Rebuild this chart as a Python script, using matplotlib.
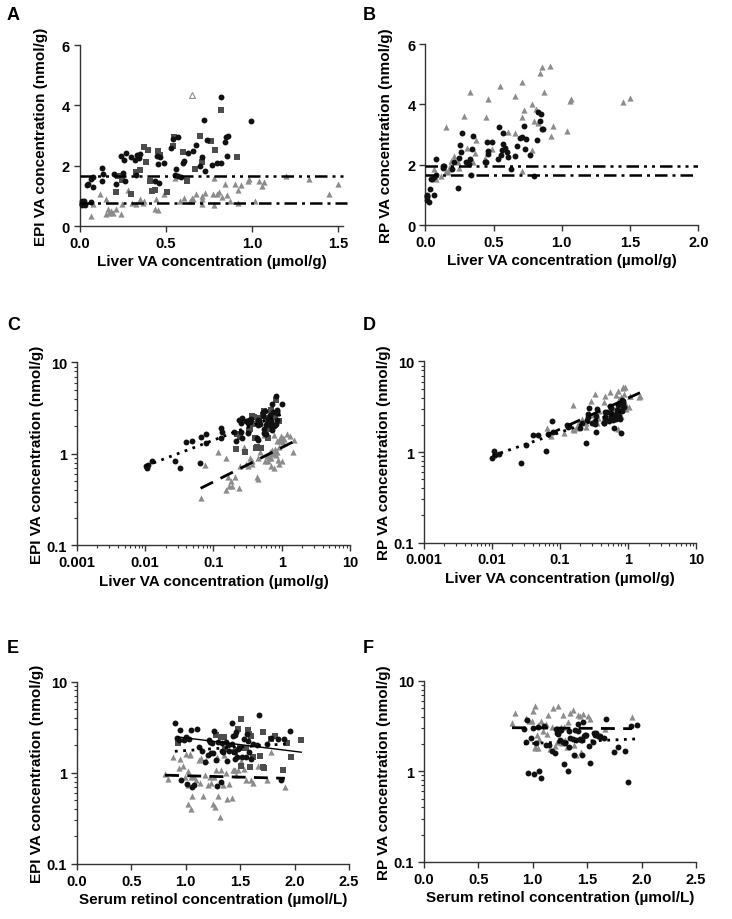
import numpy as np
import matplotlib
matplotlib.use('Agg')
import matplotlib.pyplot as plt
from matplotlib.ticker import FuncFormatter, LogLocator, NullFormatter

plt.rcParams['font.family'] = ['Liberation Sans', 'DejaVu Sans']
plt.rcParams['font.weight'] = 'bold'
plt.rcParams['axes.labelweight'] = 'bold'

nan = np.nan

# circles: liver VA (umol/g), EPI VA (nmol/g), RP VA (nmol/g), serum retinol (umol/L)
circ_liver = [0.0102, 0.0107, 0.011, 0.0125, 0.027, 0.032, 0.040, 0.048, 0.063, 0.066, 0.077, 0.079,
              0.128, 0.13, 0.134, 0.198, 0.212, 0.24, 0.25, 0.256, 0.26, 0.266, 0.298, 0.322, 0.325,
              0.334, 0.342, 0.35, 0.438, 0.448, 0.453, 0.458, 0.463, 0.488, 0.53, 0.542, 0.554, 0.56,
              0.569, 0.57, 0.586, 0.598, 0.603, 0.63, 0.657, 0.672, 0.696, 0.708, 0.72, 0.728, 0.74,
              0.769, 0.794, 0.818, 0.822, 0.843, 0.847, 0.855, 0.862, 0.996]
circ_epi = [0.73, 0.70, 0.76, 0.84, 0.84, 0.71, 1.35, 1.40, 0.79, 1.55, 1.64, 1.31,
            1.94, 1.50, 1.72, 1.72, 1.39, 2.34, 1.75, 2.20, 1.50, 2.44, 2.30, 2.19, 1.70,
            2.36, 2.25, 2.40, 1.50, 2.33, 2.06, 1.43, 2.28, 2.11, 2.60, 2.88, 1.70, 1.89,
            2.94, 1.67, 1.64, 2.08, 2.17, 2.42, 2.50, 2.69, 2.00, 2.30, 3.52, 1.83, 2.85,
            2.02, 2.08, 2.11, 4.27, 2.80, 2.94, 2.33, 3.00, 3.49]
circ_rp = [0.85, 1.02, 0.93, 0.96, 0.76, 1.19, 1.53, 1.53, 1.02, 1.60, 2.20, 1.67,
           1.97, 1.90, 1.95, 1.86, 2.10, 1.25, 2.24, 2.66, 2.44, 3.04, 2.11, 2.04, 2.19,
           1.66, 2.52, 2.96, 2.10, 2.08, 2.76, 2.46, 2.35, 2.76, 2.20, 3.26, 2.33, 2.50,
           3.05, 2.68, 2.57, 2.44, 2.27, 1.86, 2.30, 2.63, 2.88, 2.91, 3.29, 2.52, 2.85,
           2.33, 1.64, 2.82, 3.76, 3.46, 3.68, 3.18, 3.18, nan]
circ_serum = [1.08, 1.06, 1.01, 0.96, 1.87, 1.29, 1.38, 1.45, 1.32, 1.20, 1.25, 1.18,
              1.12, 1.52, 1.15, 1.33, 1.28, 1.53, 1.40, 1.22, 1.47, 1.00, 0.94, 1.30, 1.44,
              1.85, 1.57, 0.92, 1.55, 1.03, 1.42, 1.60, 0.98, 1.24, 1.45, 1.96, 1.34, 1.49,
              1.05, 1.58, 1.23, 1.62, 1.37, 1.78, 1.43, 1.56, 1.39, 1.21, 1.42, 1.48, 1.26,
              1.65, 1.75, 1.33, 1.67, 1.46, 0.95, 1.90, 1.10, 0.90]

# squares (EPI only)
sq_liver = [0.211, 0.221, 0.244, 0.295, 0.328, 0.347, 0.372, 0.386, 0.395, 0.405, 0.419, 0.438, 0.453,
            0.467, 0.506, 0.54, 0.547, 0.60, 0.624, 0.667, 0.70, 0.709, 0.76, 0.787, 0.818, 0.915]
sq_epi = [1.14, 1.67, 1.52, 1.06, 1.81, 1.86, 2.61, 2.14, 2.54, 1.50, 1.17, 1.19, 2.49,
          2.35, 1.15, 2.66, 2.94, 2.46, 1.50, 1.89, 2.99, 2.13, 2.81, 2.53, 3.85, 2.28]
sq_serum = [1.72, 1.45, 1.68, 1.89, 1.36, 1.55, 1.28, 0.93, 1.60, 1.62, 1.59, 1.51, 1.35,
            1.78, 1.71, 1.58, 1.57, 1.32, 1.97, 1.50, 1.48, 1.93, 1.71, 1.82, 1.51, 2.06]

# triangles
tri_liver = [0.065, 0.075, 0.116, 0.153, 0.155, 0.163, 0.172, 0.182, 0.19, 0.208,
             0.24, 0.245, 0.281, 0.305, 0.325, 0.347, 0.366, 0.374, 0.434, 0.444,
             0.457, 0.49, 0.55, 0.58, 0.606, 0.638, 0.654, 0.659, 0.676, 0.708,
             0.71, 0.711, 0.725, 0.773, 0.78, 0.781, 0.794, 0.811, 0.823, 0.841,
             0.857, 0.872, 0.90, 0.916, 0.918, 0.935, 0.977, 0.984, 1.017, 1.038,
             1.06, 1.067, 1.20, 1.33, 1.448, 1.497]
tri_epi = [0.33, 0.75, 1.06, 0.90, 0.40, 0.56, 0.45, 0.51, 0.45, 0.56,
           0.42, 0.73, 1.19, 0.78, 0.73, 0.90, 0.78, 0.84, 0.56, 0.90,
           0.53, 1.06, 1.61, 0.84, 0.95, 0.84, 0.95, 0.90, 1.06, 0.90,
           0.73, 1.00, 1.10, 1.06, 1.61, 0.70, 1.06, 1.12, 0.97, 1.39,
           1.04, 0.85, 1.41, 0.78, 1.20, 1.38, 1.50, 1.56, 0.84, 1.50,
           1.34, 1.45, 1.67, 1.56, 1.06, 1.41]
tri_rp = [1.86, 1.52, 1.64, 1.80, 3.27, 1.75, 1.86, 1.97, 2.13, 2.30,
          2.08, 1.91, 3.62, 2.57, 4.42, 2.11, 2.38, 2.82, 2.24, 3.59,
          4.17, 2.52, 4.60, nan, 3.09, nan, 4.29, 3.05, nan, 3.57,
          1.80, 4.75, 3.81, nan, 2.49, 4.01, 3.46, 3.85, 3.40, 5.04,
          5.25, 4.42, nan, 5.26, 2.96, 3.29, nan, nan, nan, 3.12,
          4.12, 4.18, nan, nan, 4.09, 4.21]
tri_serum = [1.31, 1.40, 1.44, 1.05, 1.05, 1.16, 1.02, 1.38, 1.25, 1.06,
             1.27, 1.20, 0.97, 1.13, 1.34, 1.22, 1.62, 1.09, 1.30, 0.99,
             1.42, 1.48, 1.00, 1.55, 1.18, 1.75, 1.46, 1.26, 1.45, 1.08,
             1.02, 1.37, 1.53, 1.28, 1.04, 1.91, 1.32, 0.94, 0.81, 1.19,
             1.02, 0.84, 0.95, 1.23, 1.66, 1.12, 0.88, 1.04, 1.60, 1.29,
             1.51, 1.14, 1.78, 1.35, 1.43, 1.28]

# single open triangle in panel A
open_tri_liver = [0.65]
open_tri_epi = [4.33]

# horizontal reference lines (nmol/g)
epi_cutoffs = [1.65, 0.76]
rp_cutoffs = [1.95, 1.65]

CIRC_COLOR = '#111111'
SQ_COLOR = '#4d4d4d'
TRI_COLOR = '#8c8c8c'
AXIS_COLOR = '#333333'

DASH_DOT_DOT = (0, (5, 2, 1.2, 2, 1.2, 2))
DASH_DOT = (0, (5, 2, 1.2, 2))


def style_axes(ax):
    for side in ['top', 'right']:
        ax.spines[side].set_visible(False)
    for side in ['left', 'bottom']:
        ax.spines[side].set_color(AXIS_COLOR)
        ax.spines[side].set_linewidth(1.0)
    ax.tick_params(which='major', direction='out', length=4, width=1.0, color=AXIS_COLOR,
                   labelsize=10.5, pad=3)
    ax.tick_params(which='minor', direction='out', length=2.5, width=0.8, color=AXIS_COLOR)
    for lab in ax.get_xticklabels() + ax.get_yticklabels():
        lab.set_fontweight('bold')


def log_y(ax):
    ax.set_yscale('log')
    ax.set_ylim(0.1, 10)
    ax.yaxis.set_major_locator(LogLocator(base=10, numticks=5))
    ax.yaxis.set_minor_locator(LogLocator(base=10, subs=np.arange(2, 10), numticks=10))
    ax.yaxis.set_major_formatter(FuncFormatter(lambda v, p: '%g' % v))
    ax.yaxis.set_minor_formatter(NullFormatter())


def log_x(ax):
    ax.set_xscale('log')
    ax.set_xlim(0.001, 10)
    ax.xaxis.set_major_locator(LogLocator(base=10, numticks=6))
    ax.xaxis.set_minor_locator(LogLocator(base=10, subs=np.arange(2, 10), numticks=10))
    ax.xaxis.set_major_formatter(FuncFormatter(lambda v, p: '%g' % v))
    ax.xaxis.set_minor_formatter(NullFormatter())


def scatter_groups(ax, groups):
    for x, y, marker, color, size in groups:
        ax.scatter(x, y, marker=marker, s=size, color=color, linewidths=0, zorder=3, clip_on=False)


def fit_line(ax, x, y, ls, lw, logx):
    x = np.asarray(x, float)
    y = np.asarray(y, float)
    ok = ~np.isnan(x) & ~np.isnan(y)
    x, y = x[ok], y[ok]
    xx = np.log10(x) if logx else x
    a, b = np.polyfit(xx, np.log10(y), 1)
    if logx:
        xs = np.logspace(np.log10(x.min()), np.log10(x.max()), 50)
        ys = 10 ** (a * np.log10(xs) + b)
    else:
        xs = np.linspace(x.min(), x.max(), 50)
        ys = 10 ** (a * xs + b)
    ax.plot(xs, ys, color='black', linestyle=ls, lw=lw, zorder=4)


def labels(fig, ax, ylab, xlab, letter, lx, ly):
    ax.set_ylabel(ylab, fontsize=11, fontweight='bold')
    ax.set_xlabel(xlab, fontsize=11, fontweight='bold')
    ax.yaxis.set_label_coords(-0.12, 0.5)
    ax.xaxis.set_label_coords(0.5, -0.155)
    # panel letter placed in figure pixels
    fig.text(lx / 732, 1 - ly / 920, letter, fontsize=13, fontweight='bold', ha='left', va='top')


def main():
    fig = plt.figure(figsize=(7.32, 9.2), dpi=100)

    ax_a = fig.add_axes([0.109, 0.753, 0.360, 0.197])
    ax_b = fig.add_axes([0.581, 0.754, 0.373, 0.197])
    ax_c = fig.add_axes([0.105, 0.406, 0.373, 0.199])
    ax_d = fig.add_axes([0.579, 0.409, 0.372, 0.197])
    ax_e = fig.add_axes([0.105, 0.060, 0.372, 0.198])
    ax_f = fig.add_axes([0.579, 0.062, 0.372, 0.197])

    epi_groups = [(tri_liver, tri_epi, '^', TRI_COLOR, 20),
                  (sq_liver, sq_epi, 's', SQ_COLOR, 17),
                  (circ_liver, circ_epi, 'o', CIRC_COLOR, 18)]
    rp_groups = [(tri_liver, tri_rp, '^', TRI_COLOR, 20),
                 (circ_liver, circ_rp, 'o', CIRC_COLOR, 18)]

    # A: EPI vs liver, linear
    scatter_groups(ax_a, epi_groups)
    ax_a.scatter(open_tri_liver, open_tri_epi, marker='^', s=18, facecolors='white',
                 edgecolors=TRI_COLOR, linewidths=0.8, zorder=3)
    ax_a.plot([0, 1.55], [epi_cutoffs[0]] * 2, color='black', lw=1.8, linestyle=DASH_DOT_DOT,
              clip_on=False, zorder=4)
    ax_a.plot([0, 1.55], [epi_cutoffs[1]] * 2, color='black', lw=1.8, linestyle=DASH_DOT,
              clip_on=False, zorder=4)
    ax_a.set_xlim(0, 1.53)
    ax_a.set_ylim(0, 6)
    ax_a.set_xticks([0, 0.5, 1.0, 1.5])
    ax_a.set_yticks([0, 2, 4, 6])
    ax_a.xaxis.set_major_formatter(FuncFormatter(lambda v, p: '%.1f' % v))
    labels(fig, ax_a, 'EPI VA concentration (nmol/g)', 'Liver VA concentration (\u00b5mol/g)', 'A', 7, 7)

    # B: RP vs liver, linear
    scatter_groups(ax_b, rp_groups)
    ax_b.plot([0, 2.0], [rp_cutoffs[0]] * 2, color='black', lw=1.8, linestyle=DASH_DOT_DOT, zorder=4)
    ax_b.plot([0, 2.0], [rp_cutoffs[1]] * 2, color='black', lw=1.8, linestyle=DASH_DOT, zorder=4)
    ax_b.set_xlim(0, 2.0)
    ax_b.set_ylim(0, 6)
    ax_b.set_xticks([0, 0.5, 1.0, 1.5, 2.0])
    ax_b.set_yticks([0, 2, 4, 6])
    ax_b.xaxis.set_major_formatter(FuncFormatter(lambda v, p: '%.1f' % v))
    labels(fig, ax_b, 'RP VA concentration (nmol/g)', 'Liver VA concentration (\u00b5mol/g)', 'B', 363, 7)

    # C: EPI vs liver, log-log
    scatter_groups(ax_c, epi_groups)
    fit_line(ax_c, circ_liver, circ_epi, (0, (1, 2)), 2.0, True)
    fit_line(ax_c, tri_liver, tri_epi, (0, (5, 3)), 2.0, True)
    log_x(ax_c)
    log_y(ax_c)
    labels(fig, ax_c, 'EPI VA concentration (nmol/g)', 'Liver VA concentration (\u00b5mol/g)', 'C', 7, 317)

    # D: RP vs liver, log-log
    scatter_groups(ax_d, rp_groups)
    fit_line(ax_d, circ_liver, circ_rp, (0, (1, 2)), 2.0, True)
    fit_line(ax_d, tri_liver, tri_rp, (0, (5, 3)), 2.0, True)
    log_x(ax_d)
    log_y(ax_d)
    labels(fig, ax_d, 'RP VA concentration (nmol/g)', 'Liver VA concentration (\u00b5mol/g)', 'D', 363, 317)

    # E: EPI vs serum retinol
    serum_epi = [(tri_serum, tri_epi, '^', TRI_COLOR, 20),
                 (sq_serum, sq_epi, 's', SQ_COLOR, 17),
                 (circ_serum, circ_epi, 'o', CIRC_COLOR, 18)]
    scatter_groups(ax_e, serum_epi)
    fit_line(ax_e, circ_serum, circ_epi, (0, (1, 2)), 2.0, False)
    fit_line(ax_e, tri_serum, tri_epi, (0, (5, 3)), 2.0, False)
    fit_line(ax_e, sq_serum, sq_epi, '-', 1.0, False)
    ax_e.set_xlim(0, 2.5)
    ax_e.set_xticks([0, 0.5, 1.0, 1.5, 2.0, 2.5])
    ax_e.xaxis.set_major_formatter(FuncFormatter(lambda v, p: '%.1f' % v))
    log_y(ax_e)
    labels(fig, ax_e, 'EPI VA concentration (nmol/g)', 'Serum retinol concentration (\u00b5mol/L)', 'E', 7, 640)

    # F: RP vs serum retinol
    serum_rp = [(tri_serum, tri_rp, '^', TRI_COLOR, 20),
                (circ_serum, circ_rp, 'o', CIRC_COLOR, 18)]
    scatter_groups(ax_f, serum_rp)
    fit_line(ax_f, circ_serum, circ_rp, (0, (1, 2)), 2.0, False)
    fit_line(ax_f, tri_serum, tri_rp, (0, (5, 3)), 2.0, False)
    ax_f.set_xlim(0, 2.5)
    ax_f.set_xticks([0, 0.5, 1.0, 1.5, 2.0, 2.5])
    ax_f.xaxis.set_major_formatter(FuncFormatter(lambda v, p: '%.1f' % v))
    log_y(ax_f)
    labels(fig, ax_f, 'RP VA concentration (nmol/g)', 'Serum retinol concentration (\u00b5mol/L)', 'F', 363, 640)

    for ax in [ax_a, ax_b, ax_c, ax_d, ax_e, ax_f]:
        style_axes(ax)

    fig.savefig('out.png', dpi=100)


if __name__ == '__main__':
    main()
